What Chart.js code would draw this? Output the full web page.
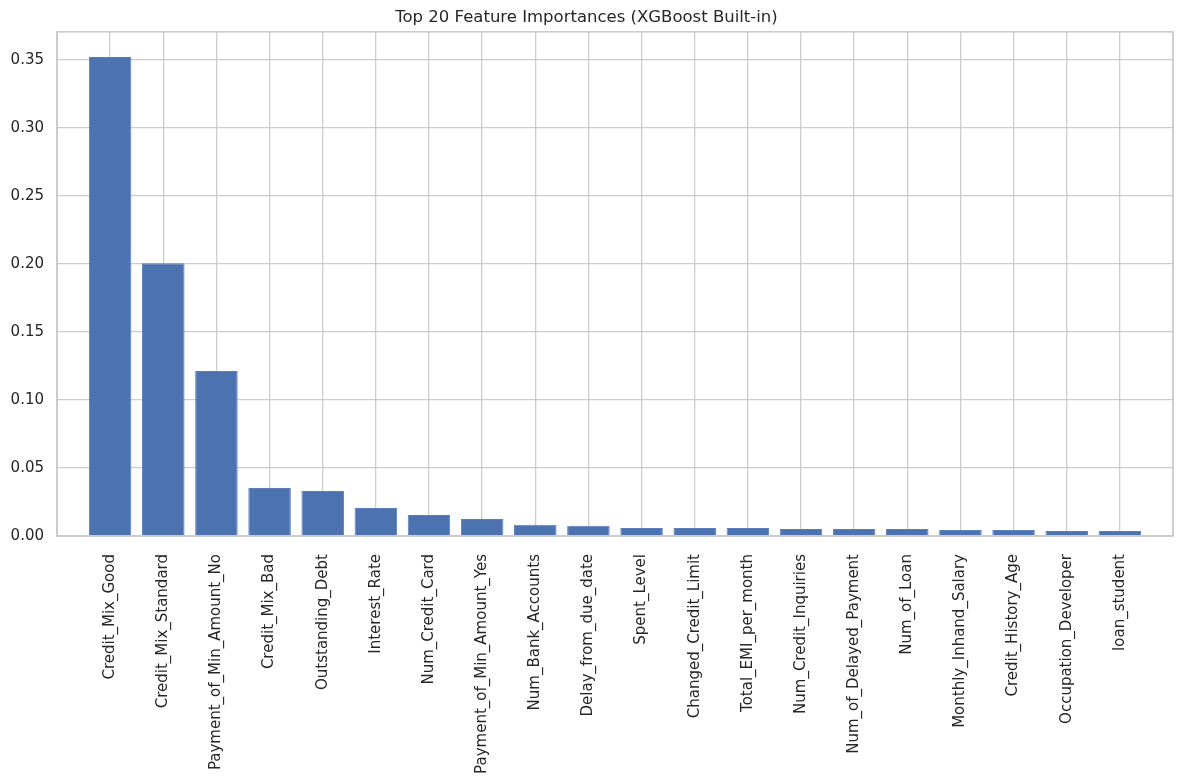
<!DOCTYPE html>
<html>
<head>
<meta charset="utf-8">
<script src="https://cdn.jsdelivr.net/npm/chart.js@4.4.1/dist/chart.umd.min.js"></script>
<style>
  html, body { margin: 0; padding: 0; background: #fff; }
  #wrap { width: 1184px; height: 784px; }
</style>
</head>
<body>
<div id="wrap"><canvas id="importanceChart"></canvas></div>
<script>
// feature names and importances
const features = [
    'Credit_Mix_Good', 'Credit_Mix_Standard', 'Payment_of_Min_Amount_No', 'Credit_Mix_Bad',
    'Outstanding_Debt', 'Interest_Rate', 'Num_Credit_Card', 'Payment_of_Min_Amount_Yes',
    'Num_Bank_Accounts', 'Delay_from_due_date', 'Spent_Level', 'Changed_Credit_Limit',
    'Total_EMI_per_month', 'Num_Credit_Inquiries', 'Num_of_Delayed_Payment', 'Num_of_Loan',
    'Monthly_Inhand_Salary', 'Credit_History_Age', 'Occupation_Developer', 'loan_student'
];
const importances = [
    0.3522, 0.2005, 0.1213, 0.0353,
    0.0331, 0.0206, 0.0154, 0.0125,
    0.0083, 0.0076, 0.0059, 0.0059,
    0.0059, 0.0051, 0.0051, 0.0051,
    0.0044, 0.0044, 0.0037, 0.0037
];
const yTicks = [0, 0.05, 0.10, 0.15, 0.20, 0.25, 0.30, 0.35];

const gridColor = '#cccccc';
const textColor = '#262626';
Chart.defaults.font.family = '"DejaVu Sans", sans-serif';
Chart.defaults.color = textColor;

// matplotlib draws all four spines, chart.js only the axis sides
const frame = {
    id: 'frame',
    afterDatasetsDraw(chart) {
        const { ctx, chartArea: a } = chart;
        ctx.save();
        ctx.strokeStyle = gridColor;
        ctx.lineWidth = 1.7;
        ctx.strokeRect(a.left, a.top, a.right - a.left, a.bottom - a.top);
        ctx.restore();
    }
};

const ctx = document.getElementById('importanceChart').getContext('2d');

const myChart = new Chart(ctx, {
    type: 'bar',
    data: {
        datasets: [{
            label: 'Importance',
            data: importances.map((v, i) => ({ x: i, y: v })),
            backgroundColor: '#4c72b0',
            borderColor: '#5a7fba',
            borderWidth: 1,
            barPercentage: 0.8,
            categoryPercentage: 1.0
        }]
    },
    options: {
        responsive: true,
        maintainAspectRatio: false,
        animation: false,
        layout: { padding: { left: 0, right: 11, top: 0, bottom: 0 } },
        plugins: {
            legend: { display: false },
            tooltip: { enabled: false },
            title: {
                display: true,
                text: 'Top 20 Feature Importances (XGBoost Built-in)',
                color: textColor,
                font: { size: 16.5, weight: 'normal' },
                padding: { top: 8, bottom: 4 }
            }
        },
        scales: {
            x: {
                type: 'linear',
                offset: false,
                min: -1,
                max: features.length,
                afterBuildTicks(scale) {
                    const t = [];
                    for (let i = -1; i <= features.length; i++) t.push({ value: i });
                    scale.ticks = t;
                },
                afterFit(scale) {
                    scale.height = 248;
                    scale.paddingLeft = 0;
                    scale.paddingRight = 0;
                },
                grid: { color: gridColor, lineWidth: 1.3, drawTicks: false, offset: false },
                border: { color: gridColor, width: 1.7 },
                ticks: {
                    autoSkip: false,
                    minRotation: 90,
                    maxRotation: 90,
                    padding: 18,
                    font: { size: 15 },
                    callback: (v) => features[v] ?? ''
                }
            },
            y: {
                min: 0,
                max: 0.3708,
                afterBuildTicks(scale) {
                    scale.ticks = yTicks.map(v => ({ value: v }));
                },
                afterFit(scale) {
                    scale.width = 57;
                    scale.paddingTop = 0;
                    scale.paddingBottom = 0;
                },
                grid: { color: gridColor, lineWidth: 1.3, drawTicks: false },
                border: { color: gridColor, width: 1.7 },
                ticks: {
                    padding: 13,
                    font: { size: 15 },
                    callback: (v) => v.toFixed(2)
                }
            }
        }
    },
    plugins: [frame]
});
</script>
</body>
</html>
